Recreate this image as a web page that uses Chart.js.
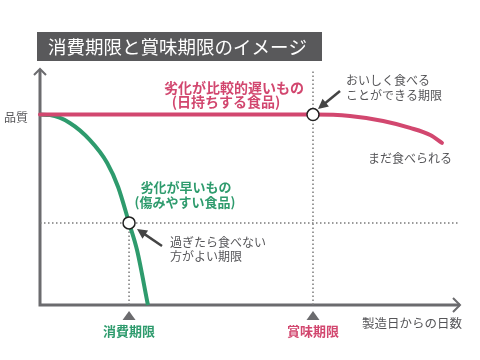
<!DOCTYPE html>
<html>
<head>
<meta charset="utf-8">
<script src="https://cdn.jsdelivr.net/npm/chart.js@4/dist/chart.umd.min.js"></script>
<style>
  html, body { margin: 0; padding: 0; background: #fff; }
  #wrap { width: 480px; height: 360px; }
</style>
</head>
<body>
<div id="wrap"><canvas id="c" width="480" height="360"></canvas></div>
<script>
// data (x = days since manufacture, y = quality, both 0-100 arbitrary units)
const slowX = [0, 65, 73.8, 81.7, 88.1, 92.9, 95.7];
const slowY = [80, 80, 79.4, 77.3, 74.4, 71.4, 68.1];
const fastX = [0, 2.4, 7.1, 11.9, 16, 18.6, 21.2, 23.1, 25.7];
const fastY = [80, 79.8, 76.5, 69.3, 59.7, 49.6, 34.5, 23.1, 0];
const useByX = 21.2;       // 消費期限
const bestBeforeX = 65;    // 賞味期限
const useByQuality = 34.5;
const qualityLevel = 80;

const PINK = '#d2476f';
const GREEN = '#2e9b6d';
const AXIS = '#6b6b6e';
const TEXT = '#555558';
const DOT = '#7a7a7a';

function pts(xs, ys) { return xs.map((x, i) => ({ x, y: ys[i] })); }

const dotted = { borderColor: DOT, borderWidth: 1.5, borderDash: [1.5, 2.5], pointRadius: 0, showLine: true, clip: false, order: 5 };

const datasets = [
  { label: 'markers', data: [{ x: useByX, y: useByQuality }, { x: bestBeforeX, y: qualityLevel }],
    pointRadius: 6, pointBackgroundColor: '#fff', pointBorderColor: '#222', pointBorderWidth: 1.5, showLine: false, clip: false, order: 0 },
  { label: 'slow', data: pts(slowX, slowY), borderColor: PINK, borderWidth: 4, pointRadius: 0, showLine: true,
    cubicInterpolationMode: 'monotone', borderCapStyle: 'round', clip: false, order: 1 },
  { label: 'fast', data: pts(fastX, fastY), borderColor: GREEN, borderWidth: 4, pointRadius: 0, showLine: true,
    cubicInterpolationMode: 'monotone', borderCapStyle: 'butt', clip: false, order: 2 },
  Object.assign({ label: 'bb', data: [{ x: bestBeforeX, y: 0 }, { x: bestBeforeX, y: 98.5 }] }, dotted),
  Object.assign({ label: 'ub', data: [{ x: useByX, y: 0 }, { x: useByX, y: useByQuality }] }, dotted),
  Object.assign({ label: 'h', data: [{ x: 0, y: useByQuality }, { x: 99.5, y: useByQuality }] }, dotted)
];

function txt(ctx, s, x, y, font, color, align) {
  ctx.font = font;
  ctx.fillStyle = color;
  ctx.textAlign = align || 'left';
  ctx.textBaseline = 'middle';
  ctx.fillText(s, x, y);
}

function arrow(ctx, x1, y1, x2, y2) {
  const a = Math.atan2(y2 - y1, x2 - x1);
  ctx.strokeStyle = '#444'; ctx.fillStyle = '#444'; ctx.lineWidth = 2.5;
  ctx.beginPath(); ctx.moveTo(x1, y1);
  ctx.lineTo(x2 - 6 * Math.cos(a), y2 - 6 * Math.sin(a)); ctx.stroke();
  ctx.beginPath();
  ctx.moveTo(x2, y2);
  ctx.lineTo(x2 - 10 * Math.cos(a) + 5 * Math.sin(a), y2 - 10 * Math.sin(a) - 5 * Math.cos(a));
  ctx.lineTo(x2 - 10 * Math.cos(a) - 5 * Math.sin(a), y2 - 10 * Math.sin(a) + 5 * Math.cos(a));
  ctx.closePath(); ctx.fill();
}

const decor = {
  id: 'decor',
  beforeDatasetsDraw(chart) {
    const ctx = chart.ctx, a = chart.chartArea;
    ctx.save();
    ctx.strokeStyle = AXIS; ctx.lineWidth = 3; ctx.lineCap = 'butt';
    // axes
    ctx.beginPath();
    ctx.moveTo(a.left, a.top + 3); ctx.lineTo(a.left, a.bottom); ctx.lineTo(a.right, a.bottom);
    ctx.stroke();
    ctx.lineWidth = 2;
    ctx.beginPath();
    ctx.moveTo(a.left - 6, a.top + 8); ctx.lineTo(a.left, a.top + 2); ctx.lineTo(a.left + 6, a.top + 8);
    ctx.moveTo(a.right - 7, a.bottom - 7); ctx.lineTo(a.right, a.bottom); ctx.lineTo(a.right - 7, a.bottom + 7);
    ctx.stroke();
    ctx.restore();
  },
  afterDraw(chart) {
    const ctx = chart.ctx, sx = chart.scales.x;
    const jp = '"Noto Sans CJK JP", "Noto Sans", sans-serif';
    ctx.save();
    // title
    ctx.fillStyle = '#59595b';
    ctx.fillRect(37, 32, 285, 29);
    txt(ctx, '消費期限と賞味期限のイメージ', 48, 47, '18.5px ' + jp, '#fff');
    // triangles + limit labels
    [[useByX, '消費期限', GREEN], [bestBeforeX, '賞味期限', PINK]].forEach(([v, s, c]) => {
      const x = sx.getPixelForValue(v);
      ctx.fillStyle = '#6b6b6e';
      ctx.beginPath(); ctx.moveTo(x, 311); ctx.lineTo(x + 6.5, 320); ctx.lineTo(x - 6.5, 320); ctx.closePath(); ctx.fill();
      txt(ctx, s, x, 331, 'bold 13px ' + jp, c, 'center');
    });
    txt(ctx, '製造日からの日数', 362, 323, '12.5px ' + jp, TEXT);
    txt(ctx, '品質', 4, 117, '12px ' + jp, TEXT);
    // curve labels
    txt(ctx, '劣化が比較的遅いもの', 234, 88, 'bold 14px ' + jp, PINK, 'center');
    txt(ctx, '(日持ちする食品)', 226, 102, 'bold 14px ' + jp, PINK, 'center');
    txt(ctx, '劣化が早いもの', 186, 187, 'bold 13px ' + jp, GREEN, 'center');
    txt(ctx, '(傷みやすい食品)', 185, 202, 'bold 13px ' + jp, GREEN, 'center');
    // notes
    txt(ctx, 'おいしく食べる', 346, 80, '12px ' + jp, TEXT);
    txt(ctx, 'ことができる期限', 346, 95, '12px ' + jp, TEXT);
    txt(ctx, 'まだ食べられる', 368, 158, '12px ' + jp, TEXT);
    txt(ctx, '過ぎたら食べない', 170, 242, '12px ' + jp, TEXT);
    txt(ctx, '方がよい期限', 170, 256, '12px ' + jp, TEXT);
    arrow(ctx, 340, 91, 318, 109);
    arrow(ctx, 162, 246, 137, 229);
    ctx.restore();
  }
};

new Chart(document.getElementById('c'), {
  type: 'scatter',
  data: { datasets },
  options: {
    responsive: false,
    animation: false,
    layout: { padding: { left: 40, right: 20, top: 67, bottom: 55 } },
    plugins: { legend: { display: false }, tooltip: { enabled: false } },
    scales: {
      x: { type: 'linear', min: 0, max: 100, display: false },
      y: { type: 'linear', min: 0, max: 100, display: false }
    }
  },
  plugins: [decor]
});
</script>
</body>
</html>
